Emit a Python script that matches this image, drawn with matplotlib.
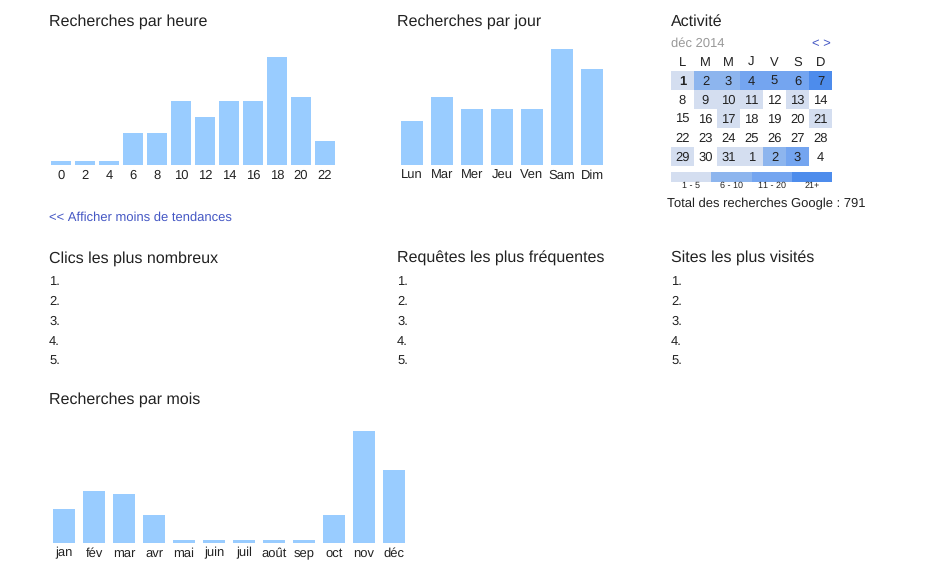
import matplotlib
matplotlib.use("Agg")
import matplotlib.pyplot as plt
from matplotlib.colors import ListedColormap
import numpy as np

plt.rcParams['font.family'] = ['Liberation Sans', 'DejaVu Sans']
plt.rcParams['text.hinting'] = 'no_hinting'
plt.rcParams['text.hinting_factor'] = 1

# Données
heures = ['0', '2', '4', '6', '8', '10', '12', '14', '16', '18', '20', '22']
recherches_heure = [1, 1, 1, 8, 8, 16, 12, 16, 16, 27, 17, 6]

jours = ['Lun', 'Mar', 'Mer', 'Jeu', 'Ven', 'Sam', 'Dim']
recherches_jour = [11, 17, 14, 14, 14, 29, 24]

mois = ['jan', 'fév', 'mar', 'avr', 'mai', 'juin', 'juil', 'août', 'sep', 'oct', 'nov', 'déc']
recherches_mois = [34, 52, 49, 28, 3, 3, 3, 3, 3, 28, 112, 73]

entetes_cal = ['L', 'M', 'M', 'J', 'V', 'S', 'D']
jours_cal = [[1, 2, 3, 4, 5, 6, 7],
             [8, 9, 10, 11, 12, 13, 14],
             [15, 16, 17, 18, 19, 20, 21],
             [22, 23, 24, 25, 26, 27, 28],
             [29, 30, 31, 1, 2, 3, 4]]
# niveau d'activité : 0 = aucune, 1 = 1-5, 2 = 6-10, 3 = 11-20, 4 = 21+
niveaux_cal = [[1, 2, 2, 3, 3, 3, 4],
               [0, 1, 1, 1, 0, 1, 0],
               [0, 0, 1, 0, 0, 0, 1],
               [0, 0, 0, 0, 0, 0, 0],
               [1, 0, 1, 1, 2, 3, 0]]
legende_cal = ['1 - 5', '6 - 10', '11 - 20', '21+']
total = 791

BLEU_BARRE = '#99ccff'
TEXTE = '#222222'
LIEN = '#4457c4'
couleurs_cal = ['white', '#d4def0', '#8db5ee', '#74a5f0', '#4d8cec']

W, H = 939, 579
fig = plt.figure(figsize=(W / 100, H / 100), dpi=100)


def axes_px(left, top, width, height):
    return fig.add_axes([left / W, 1 - (top + height) / H, width / W, height / H])


def graphe_barres(ax, labels, valeurs, largeur):
    x = np.arange(len(labels))
    ax.bar(x, valeurs, width=largeur, color=BLEU_BARRE)
    ax.set_xlim(-0.5, len(labels) - 0.5)
    ax.set_ylim(0, max(valeurs))
    ax.set_xticks(x)
    ax.set_xticklabels(labels, fontsize=9.5, color=TEXTE)
    ax.tick_params(axis='x', length=0, pad=3)
    ax.set_yticks([])
    for s in ax.spines.values():
        s.set_visible(False)
    ax.patch.set_visible(False)


# Recherches par heure
ax_h = axes_px(49, 57, 288, 108)
graphe_barres(ax_h, heures, recherches_heure, 20 / 24)

# Recherches par jour
ax_j = axes_px(397, 49, 210, 116)
graphe_barres(ax_j, jours, recherches_jour, 22 / 30)

# Recherches par mois
ax_m = axes_px(49, 431, 360, 112)
graphe_barres(ax_m, mois, recherches_mois, 22 / 30)

# Calendrier d'activité
cmap = ListedColormap(couleurs_cal)
ax_c = axes_px(671, 71, 161, 95)
ax_c.pcolormesh(np.arange(8), np.arange(6), np.array(niveaux_cal), cmap=cmap, vmin=-0.5, vmax=4.5)
ax_c.set_xlim(0, 7)
ax_c.set_ylim(5, 0)
ax_c.axis('off')
for r, ligne in enumerate(jours_cal):
    for c, j in enumerate(ligne):
        poids = 'bold' if (r == 0 and c == 0) else 'normal'
        ax_c.text(c + 0.5, r + 14 / 19, str(j), ha='center', va='baseline',
                  fontsize=9.5, color=TEXTE, fontweight=poids)
for c, e in enumerate(entetes_cal):
    ax_c.text(c + 0.5, -5 / 19, e, ha='center', va='baseline', fontsize=9.5, color=TEXTE)

ax_l = axes_px(671, 172, 161, 10)
ax_l.pcolormesh(np.arange(5), np.arange(2), np.array([[1, 2, 3, 4]]), cmap=cmap, vmin=-0.5, vmax=4.5)
ax_l.set_xlim(0, 4)
ax_l.set_ylim(1, 0)
ax_l.axis('off')
for i, lab in enumerate(legende_cal):
    ax_l.text(i + 0.5, 1.6, lab, ha='center', va='baseline', fontsize=6.8, color=TEXTE)

# Textes de la page
ax_t = fig.add_axes([0, 0, 1, 1])
ax_t.set_xlim(0, W)
ax_t.set_ylim(H, 0)
ax_t.axis('off')

titres = [(49, 26, 'Recherches par heure'), (397, 26, 'Recherches par jour'), (671, 26, 'Activité'),
          (49, 263, 'Clics les plus nombreux'), (397, 263, 'Requêtes les plus fréquentes'),
          (671, 263, 'Sites les plus visités'), (49, 404, 'Recherches par mois')]
for x, y, t in titres:
    ax_t.text(x, y, t, fontsize=11.5, color=TEXTE, va='baseline')

for x in (49, 397, 671):
    for i in range(5):
        ax_t.text(x, 285 + 20 * i, f'{i + 1}.', fontsize=9.3, color=TEXTE, va='baseline')

ax_t.text(49, 221, '<< Afficher moins de tendances', fontsize=9.3, color=LIEN, va='baseline')
ax_t.text(671, 47, 'déc 2014', fontsize=9.2, color='#999999', va='baseline')
ax_t.text(812, 47, '< >', fontsize=9.2, color=LIEN, va='baseline')
ax_t.text(667, 207, f'Total des recherches Google : {total}', fontsize=9.5, color=TEXTE, va='baseline')

fig.savefig('out.png', dpi=100)
